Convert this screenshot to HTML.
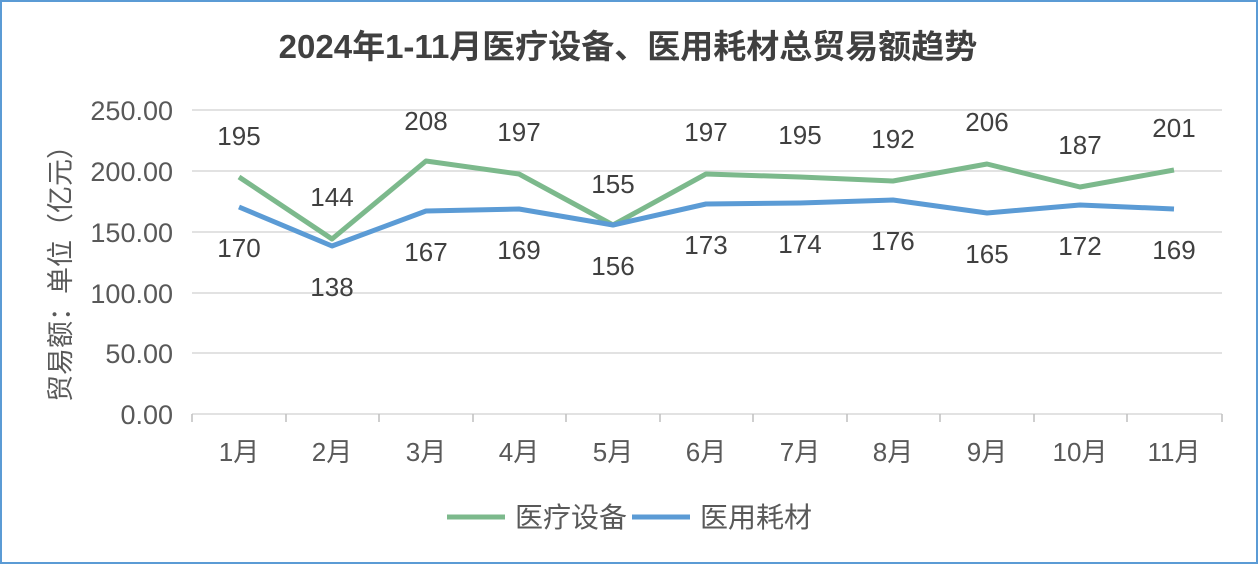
<!DOCTYPE html>
<html><head><meta charset="utf-8"><style>
body{margin:0;background:#fff}
svg text{font-family:"Liberation Sans","Noto Sans CJK SC",sans-serif}
</style></head><body>
<svg width="1258" height="564" xmlns="http://www.w3.org/2000/svg">
<rect x="1" y="1" width="1256" height="562" fill="#fff" stroke="#5b9bd5" stroke-width="2"/>
<text x="628" y="58" text-anchor="middle" font-size="33" font-weight="bold" fill="#404040">2024年1-11月医疗设备、医用耗材总贸易额趋势</text>
<g stroke="#d9d9d9" stroke-width="1.5">
<line x1="192" x2="1222" y1="110" y2="110"/><line x1="192" x2="1222" y1="171" y2="171"/>
<line x1="192" x2="1222" y1="232" y2="232"/><line x1="192" x2="1222" y1="293" y2="293"/>
<line x1="192" x2="1222" y1="353" y2="353"/><line x1="192" x2="1222" y1="414" y2="414"/>
</g>
<g stroke="#bfbfbf" stroke-width="1.5">
<line x1="192" x2="192" y1="414" y2="422"/><line x1="286" x2="286" y1="414" y2="422"/><line x1="379" x2="379" y1="414" y2="422"/><line x1="473" x2="473" y1="414" y2="422"/><line x1="566" x2="566" y1="414" y2="422"/><line x1="660" x2="660" y1="414" y2="422"/><line x1="753" x2="753" y1="414" y2="422"/><line x1="847" x2="847" y1="414" y2="422"/><line x1="940" x2="940" y1="414" y2="422"/><line x1="1034" x2="1034" y1="414" y2="422"/><line x1="1127" x2="1127" y1="414" y2="422"/><line x1="1222" x2="1222" y1="414" y2="422"/>
</g>
<g font-size="27" fill="#595959" text-anchor="end">
<text x="173" y="120">250.00</text><text x="173" y="181">200.00</text><text x="173" y="242">150.00</text>
<text x="173" y="303">100.00</text><text x="173" y="363">50.00</text><text x="173" y="424">0.00</text>
</g>
<text transform="translate(70,267) rotate(-90)" text-anchor="middle" font-size="27" fill="#595959">贸易额：单位（亿元）</text>
<g font-size="26" fill="#595959" text-anchor="middle">
<text x="239" y="461">1月</text><text x="332" y="461">2月</text><text x="426" y="461">3月</text><text x="519" y="461">4月</text><text x="613" y="461">5月</text><text x="706" y="461">6月</text><text x="800" y="461">7月</text><text x="893" y="461">8月</text><text x="987" y="461">9月</text><text x="1080" y="461">10月</text><text x="1174" y="461">11月</text>
</g>
<polyline fill="none" stroke="#7cb98c" stroke-width="5" stroke-linejoin="round" points="239,177 332,239 426,161 519,174 613,225 706,174 800,177 893,181 987,164 1080,187 1174,170"/>
<polyline fill="none" stroke="#5b9bd5" stroke-width="5" stroke-linejoin="round" points="239,207 332,246 426,211 519,209 613,225 706,204 800,203 893,200 987,213 1080,205 1174,209"/>
<g font-size="26" fill="#404040" text-anchor="middle">
<text x="239" y="145">195</text><text x="332" y="206">144</text><text x="426" y="130">208</text><text x="519" y="141">197</text><text x="613" y="193">155</text><text x="706" y="141">197</text><text x="800" y="144">195</text><text x="893" y="148">192</text><text x="987" y="131">206</text><text x="1080" y="154">187</text><text x="1174" y="137">201</text>
<text x="239" y="257">170</text><text x="332" y="296">138</text><text x="426" y="261">167</text><text x="519" y="259">169</text><text x="613" y="275">156</text><text x="706" y="254">173</text><text x="800" y="253">174</text><text x="893" y="250">176</text><text x="987" y="263">165</text><text x="1080" y="255">172</text><text x="1174" y="259">169</text>
</g>
<line x1="447" x2="505" y1="517" y2="517" stroke="#7cb98c" stroke-width="5"/>
<text x="515" y="527" font-size="28" fill="#595959">医疗设备</text>
<line x1="632" x2="690" y1="517" y2="517" stroke="#5b9bd5" stroke-width="5"/>
<text x="700" y="527" font-size="28" fill="#595959">医用耗材</text>
</svg>
</body></html>
